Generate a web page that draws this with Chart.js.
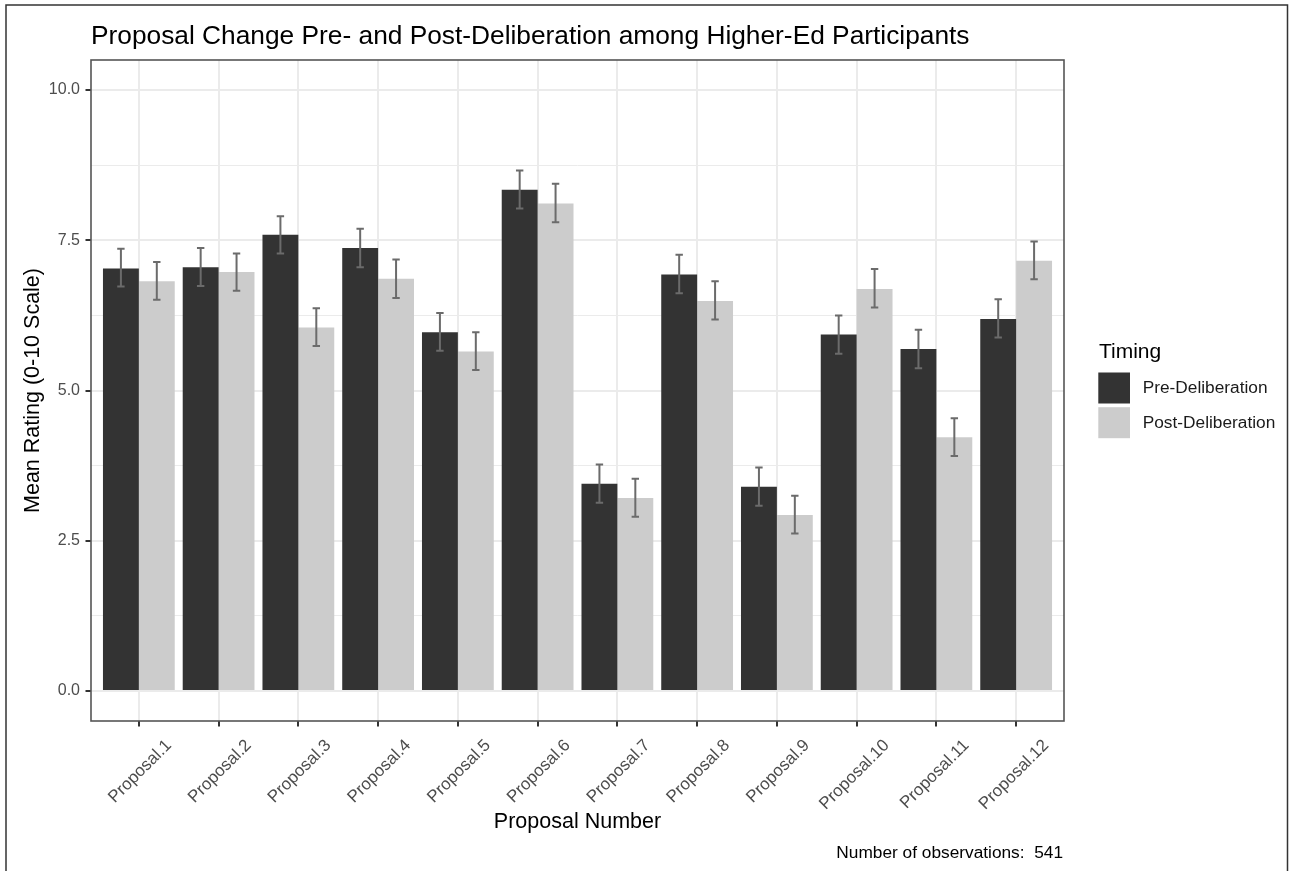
<!DOCTYPE html>
<html>
<head>
<meta charset="utf-8">
<title>Proposal Change Pre- and Post-Deliberation</title>
<script src="https://cdn.jsdelivr.net/npm/chart.js@4.4.1/dist/chart.umd.min.js"></script>
<style>
  html, body { margin: 0; padding: 0; background: #ffffff; }
  canvas { display: block; }
</style>
</head>
<body>
<canvas id="chart" width="1291" height="871"></canvas>
<script>
// ---- data -------------------------------------------------------------
const proposals = ['Proposal.1', 'Proposal.2', 'Proposal.3', 'Proposal.4', 'Proposal.5', 'Proposal.6',
                   'Proposal.7', 'Proposal.8', 'Proposal.9', 'Proposal.10', 'Proposal.11', 'Proposal.12'];

const preMean  = [7.03, 7.05, 7.59, 7.37, 5.97, 8.34, 3.45, 6.93, 3.40, 5.93, 5.69, 6.19];
const preLow   = [6.73, 6.74, 7.28, 7.05, 5.66, 8.03, 3.13, 6.62, 3.08, 5.61, 5.37, 5.88];
const preHigh  = [7.36, 7.37, 7.90, 7.69, 6.29, 8.66, 3.77, 7.26, 3.72, 6.25, 6.01, 6.52];

const postMean = [6.82, 6.97, 6.05, 6.86, 5.65, 8.11, 3.21, 6.49, 2.93, 6.69, 4.22, 7.16];
const postLow  = [6.51, 6.66, 5.74, 6.54, 5.34, 7.80, 2.90, 6.18, 2.62, 6.38, 3.91, 6.85];
const postHigh = [7.14, 7.28, 6.37, 7.18, 5.97, 8.44, 3.53, 6.82, 3.25, 7.02, 4.54, 7.48];

const seriesNames = ['Pre-Deliberation', 'Post-Deliberation'];
const yMajorTicks = [0, 2.5, 5, 7.5, 10];
const yMinorTicks = [1.25, 3.75, 6.25, 8.75];
const observations = 541;

// ---- look -------------------------------------------------------------
const FONT = "'Liberation Sans', Arial, Helvetica, sans-serif";
Chart.defaults.font.family = FONT;

const PANEL = { left: 91, top: 60, right: 1064, bottom: 721 };
const W = 1291, H = 871;
const GRID = '#ebebeb';
const DARK = '#333333';
const LIGHT = '#cccccc';

const isMajorY = v => yMajorTicks.some(t => Math.abs(t - v) < 1e-9);

// white page with the outer frame line
const pageFrame = {
  id: 'pageFrame',
  beforeDraw(chart) {
    const ctx = chart.ctx;
    ctx.save();
    ctx.fillStyle = '#ffffff';
    ctx.fillRect(0, 0, W, H);
    ctx.strokeStyle = '#333333';
    ctx.lineWidth = 1.5;
    ctx.beginPath();
    ctx.moveTo(6, H + 2);
    ctx.lineTo(6, 5);
    ctx.lineTo(1287.5, 5);
    ctx.lineTo(1287.5, H + 2);
    ctx.stroke();
    ctx.restore();
  }
};

// confidence-interval whiskers on each bar
const errorBars = {
  id: 'errorBars',
  afterDatasetsDraw(chart) {
    const ctx = chart.ctx;
    const yScale = chart.scales.y;
    ctx.save();
    ctx.strokeStyle = '#6b6b6b';
    ctx.lineWidth = 2;
    chart.data.datasets.forEach((ds, di) => {
      const meta = chart.getDatasetMeta(di);
      meta.data.forEach((bar, i) => {
        const x = bar.x;
        const yLo = yScale.getPixelForValue(ds.errLow[i]);
        const yHi = yScale.getPixelForValue(ds.errHigh[i]);
        const cap = 3.7;
        ctx.beginPath();
        ctx.moveTo(x, yLo); ctx.lineTo(x, yHi);
        ctx.moveTo(x - cap, yHi); ctx.lineTo(x + cap, yHi);
        ctx.moveTo(x - cap, yLo); ctx.lineTo(x + cap, yLo);
        ctx.stroke();
      });
    });
    ctx.restore();
  }
};

// panel outline, title, legend and caption
const decorations = {
  id: 'decorations',
  afterDraw(chart) {
    const ctx = chart.ctx;
    const a = chart.chartArea;
    ctx.save();
    ctx.strokeStyle = '#555555';
    ctx.lineWidth = 1.6;
    ctx.strokeRect(a.left, a.top, a.right - a.left, a.bottom - a.top);

    // title
    ctx.fillStyle = '#000000';
    ctx.font = `26.3px ${FONT}`;
    ctx.textAlign = 'left';
    ctx.textBaseline = 'alphabetic';
    ctx.fillText('Proposal Change Pre- and Post-Deliberation among Higher-Ed Participants', 91, 43.5);

    // legend
    ctx.font = `21px ${FONT}`;
    ctx.fillText('Timing', 1099, 357.5);
    const keys = [
      { y: 372.5, color: chart.data.datasets[0].backgroundColor, label: chart.data.datasets[0].label },
      { y: 407.2, color: chart.data.datasets[1].backgroundColor, label: chart.data.datasets[1].label }
    ];
    ctx.font = `17.3px ${FONT}`;
    ctx.textBaseline = 'middle';
    keys.forEach(k => {
      ctx.fillStyle = k.color;
      ctx.fillRect(1098.3, k.y, 31.7, 31);
      ctx.fillStyle = '#1a1a1a';
      ctx.fillText(k.label, 1142.7, k.y + 16);
    });

    // caption
    ctx.fillStyle = '#000000';
    ctx.textAlign = 'right';
    ctx.textBaseline = 'alphabetic';
    ctx.fillText(`Number of observations:  ${observations}`, 1063, 858);
    ctx.restore();
  }
};

const toPoints = arr => arr.map((v, i) => ({ x: i + 1, y: v }));

new Chart(document.getElementById('chart'), {
  type: 'bar',
  data: {
    datasets: [
      { label: seriesNames[0], data: toPoints(preMean), backgroundColor: DARK,
        errLow: preLow, errHigh: preHigh, borderWidth: 0 },
      { label: seriesNames[1], data: toPoints(postMean), backgroundColor: LIGHT,
        errLow: postLow, errHigh: postHigh, borderWidth: 0 }
    ]
  },
  options: {
    responsive: false,
    animation: false,
    devicePixelRatio: 1,
    categoryPercentage: 0.9,
    barPercentage: 1.0,
    layout: { padding: { left: 0, top: PANEL.top, right: W - PANEL.right, bottom: 0 } },
    plugins: {
      legend: { display: false },
      title: { display: false },
      tooltip: { enabled: false }
    },
    scales: {
      x: {
        type: 'linear',
        min: 0.4,
        max: proposals.length + 0.6,
        offset: false,
        afterBuildTicks(scale) {
          scale.ticks = proposals.map((_, i) => ({ value: i + 1 }));
        },
        afterFit(scale) { scale.height = H - PANEL.bottom; },
        border: { display: false },
        grid: {
          offset: false,
          color: GRID,
          lineWidth: 2,
          drawTicks: true,
          tickLength: 5.5,
          tickColor: '#333333',
          tickWidth: 2
        },
        ticks: {
          autoSkip: false,
          minRotation: 45,
          maxRotation: 45,
          labelOffset: 30,
          padding: 9,
          color: '#4d4d4d',
          font: { size: 17 },
          callback: v => proposals[Math.round(v) - 1] || ''
        },
        title: {
          display: true,
          text: 'Proposal Number',
          color: '#000000',
          font: { size: 21.5, lineHeight: 1.2 },
          padding: { top: 0, bottom: 36 }
        }
      },
      y: {
        type: 'linear',
        min: -0.5,
        max: 10.5,
        afterBuildTicks(scale) {
          scale.ticks = [...yMajorTicks, ...yMinorTicks].sort((p, q) => p - q).map(v => ({ value: v }));
        },
        afterFit(scale) { scale.width = PANEL.left; },
        border: { display: false },
        grid: {
          color: GRID,
          lineWidth: ctx => (ctx.tick && isMajorY(ctx.tick.value)) ? 2 : 1,
          drawTicks: true,
          tickLength: 5.5,
          tickColor: ctx => (ctx.tick && isMajorY(ctx.tick.value)) ? '#333333' : 'rgba(0,0,0,0)',
          tickWidth: 2
        },
        ticks: {
          padding: 5.5,
          color: '#4d4d4d',
          font: { size: 16 },
          callback: v => isMajorY(v) ? v.toFixed(1) : ''
        },
        title: {
          display: true,
          text: 'Mean Rating (0-10 Scale)',
          color: '#000000',
          font: { size: 21.5, lineHeight: 1.2 },
          padding: { top: 20.5, bottom: 0 }
        }
      }
    }
  },
  plugins: [pageFrame, errorBars, decorations]
});
</script>
</body>
</html>
